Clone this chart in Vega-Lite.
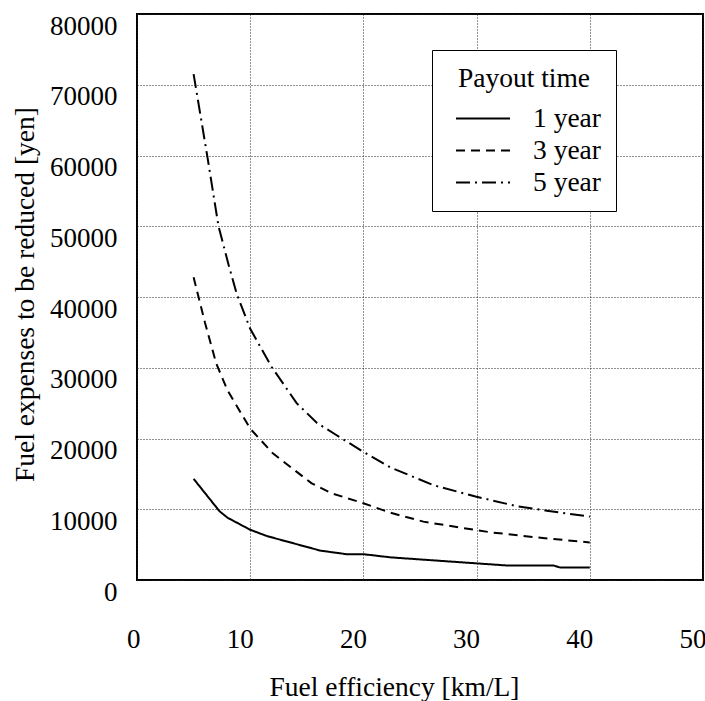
{
  "$schema": "https://vega.github.io/schema/vega-lite/v6.json",
  "autosize": "none",
  "width": 566,
  "height": 566,
  "padding": {"left": 137, "top": 14, "right": 2, "bottom": 121},
  "config": {
    "font": "Liberation Serif",
    "view": {"stroke": "black", "strokeWidth": 2},
    "axis": {
      "grid": true,
      "gridColor": "#222",
      "gridDash": [1, 2],
      "gridWidth": 1,
      "domain": false,
      "ticks": false,
      "labelFont": "Liberation Serif",
      "labelFontSize": 27,
      "labelColor": "black",
      "titleFont": "Liberation Serif",
      "titleFontSize": 27.5,
      "titleFontWeight": "normal",
      "titleColor": "black"
    }
  },
  "data": {
    "values": [
      {"efficiency": 5, "expense": 14300, "payout": "1 year"},
      {"efficiency": 7.3, "expense": 9700, "payout": "1 year"},
      {"efficiency": 8, "expense": 8800, "payout": "1 year"},
      {"efficiency": 10, "expense": 7100, "payout": "1 year"},
      {"efficiency": 11.5, "expense": 6200, "payout": "1 year"},
      {"efficiency": 16.2, "expense": 4150, "payout": "1 year"},
      {"efficiency": 18.5, "expense": 3650, "payout": "1 year"},
      {"efficiency": 20, "expense": 3650, "payout": "1 year"},
      {"efficiency": 22.4, "expense": 3200, "payout": "1 year"},
      {"efficiency": 30, "expense": 2350, "payout": "1 year"},
      {"efficiency": 32.7, "expense": 2050, "payout": "1 year"},
      {"efficiency": 36.8, "expense": 2050, "payout": "1 year"},
      {"efficiency": 37.4, "expense": 1750, "payout": "1 year"},
      {"efficiency": 40, "expense": 1750, "payout": "1 year"},
      {"efficiency": 5, "expense": 42800, "payout": "3 year"},
      {"efficiency": 6, "expense": 36400, "payout": "3 year"},
      {"efficiency": 7, "expense": 30600, "payout": "3 year"},
      {"efficiency": 8, "expense": 26800, "payout": "3 year"},
      {"efficiency": 10, "expense": 21400, "payout": "3 year"},
      {"efficiency": 12, "expense": 17900, "payout": "3 year"},
      {"efficiency": 15.4, "expense": 13700, "payout": "3 year"},
      {"efficiency": 17.2, "expense": 12250, "payout": "3 year"},
      {"efficiency": 20, "expense": 10850, "payout": "3 year"},
      {"efficiency": 22.4, "expense": 9500, "payout": "3 year"},
      {"efficiency": 25.3, "expense": 8250, "payout": "3 year"},
      {"efficiency": 29.9, "expense": 7070, "payout": "3 year"},
      {"efficiency": 31.2, "expense": 6750, "payout": "3 year"},
      {"efficiency": 35.3, "expense": 6030, "payout": "3 year"},
      {"efficiency": 40, "expense": 5300, "payout": "3 year"},
      {"efficiency": 5, "expense": 71500, "payout": "5 year"},
      {"efficiency": 6.2, "expense": 60000, "payout": "5 year"},
      {"efficiency": 7.2, "expense": 50000, "payout": "5 year"},
      {"efficiency": 8.1, "expense": 44500, "payout": "5 year"},
      {"efficiency": 8.8, "expense": 40500, "payout": "5 year"},
      {"efficiency": 10, "expense": 35500, "payout": "5 year"},
      {"efficiency": 11.9, "expense": 30100, "payout": "5 year"},
      {"efficiency": 14.1, "expense": 25000, "payout": "5 year"},
      {"efficiency": 15.9, "expense": 22200, "payout": "5 year"},
      {"efficiency": 17.5, "expense": 20600, "payout": "5 year"},
      {"efficiency": 20, "expense": 18100, "payout": "5 year"},
      {"efficiency": 22.4, "expense": 15900, "payout": "5 year"},
      {"efficiency": 26.2, "expense": 13400, "payout": "5 year"},
      {"efficiency": 29.9, "expense": 11800, "payout": "5 year"},
      {"efficiency": 33.5, "expense": 10450, "payout": "5 year"},
      {"efficiency": 36.2, "expense": 9800, "payout": "5 year"},
      {"efficiency": 40, "expense": 8950, "payout": "5 year"}
    ]
  },
  "mark": {"type": "line", "color": "black", "strokeWidth": 2},
  "encoding": {
    "x": {
      "field": "efficiency",
      "type": "quantitative",
      "scale": {"domain": [0, 50], "nice": false},
      "axis": {
        "title": "Fuel efficiency [km/L]",
        "values": [0, 10, 20, 30, 40, 50],
        "labelAlign": "right",
        "labelOffset": 3,
        "labelBaseline": "top",
        "labelPadding": 46,
        "titleY": 115,
        "titleX": 257,
        "titleAlign": "center",
        "titleBaseline": "alphabetic"
      }
    },
    "y": {
      "field": "expense",
      "type": "quantitative",
      "scale": {"domain": [0, 80000], "nice": false},
      "axis": {
        "title": "Fuel expenses to be reduced [yen]",
        "values": [0, 10000, 20000, 30000, 40000, 50000, 60000, 70000, 80000],
        "format": "d",
        "labelAlign": "right",
        "labelBaseline": "middle",
        "labelOffset": 12,
        "labelPadding": 20,
        "titleX": -104,
        "titleY": 280,
        "titleAlign": "center",
        "titleBaseline": "alphabetic",
        "titleAngle": -90
      }
    },
    "strokeDash": {
      "field": "payout",
      "type": "nominal",
      "scale": {
        "domain": ["1 year", "3 year", "5 year"],
        "range": [[1, 0], [9, 6], [14, 5, 2, 5]]
      },
      "legend": {
        "title": "Payout time",
        "orient": "none",
        "legendX": 295,
        "legendY": 36,
        "fillColor": "white",
        "strokeColor": "black",
        "padding": 15,
        "titleFont": "Liberation Serif",
        "titleFontSize": 27.5,
        "titleFontWeight": "normal",
        "titleColor": "black",
        "titlePadding": 13,
        "titleAnchor": "middle",
        "labelFont": "Liberation Serif",
        "labelFontSize": 27.5,
        "labelColor": "black",
        "labelOffset": 22,
        "symbolOffset": 8,
        "symbolType": "stroke",
        "symbolSize": 2916,
        "symbolStrokeWidth": 2,
        "symbolStrokeColor": "black",
        "clipHeight": 26,
        "rowPadding": 4
      }
    }
  }
}
